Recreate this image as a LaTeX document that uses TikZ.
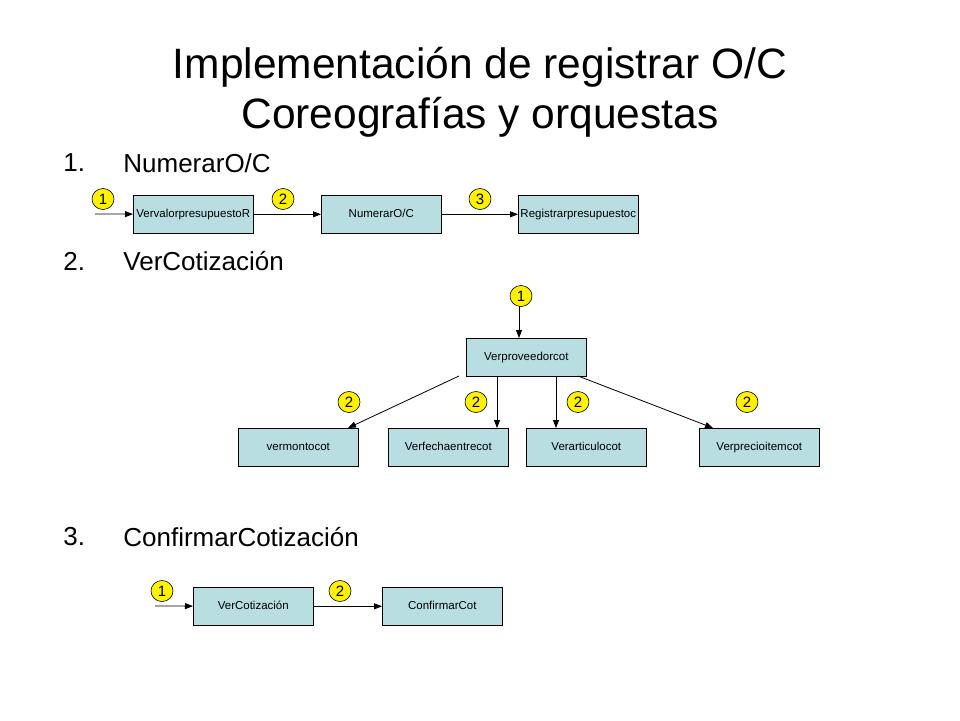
\documentclass[tikz,border=0pt]{standalone}
\usepackage{fontspec}
\setmainfont{Liberation Sans}
\usetikzlibrary{arrows.meta,shapes.geometric}
\begin{document}
\begin{tikzpicture}[x=1pt,y=-1pt,line width=0.8pt,
 box/.style={draw,line width=0.6pt,fill={rgb,255:red,184;green,222;blue,226},minimum width=120pt,minimum height=38pt,inner sep=0pt,text height=8pt,text depth=2pt,font=\fontsize{11.5}{13}\selectfont,anchor=north west},
 num/.style={ellipse,draw,line width=0.6pt,fill=yellow,minimum width=22pt,minimum height=21pt,inner sep=0pt,font=\fontsize{15}{17}\selectfont},
 arr/.style={-{Triangle[length=8pt,width=6pt]}},
 item/.style={anchor=west,font=\fontsize{26}{30}\selectfont,inner sep=0pt}]
\useasboundingbox (0,0) rectangle (960,720);
\node[font=\fontsize{42.5}{50}\selectfont,align=center] (t) at (480,92) {Implementación de registrar O/C\\Coreografías y orquestas};
\node[item] (l1) at (63,163) {1.};\node[item] (i1) at (123,163) {NumerarO/C};
\node[item] (l2) at (63,261) {2.};\node[item] (i2) at (123,261) {VerCotización};
\node[item] (l3) at (63,537) {3.};\node[item] (i3) at (123,537) {ConfirmarCotización};
% row1
\node[box] (a1) at (133,195) {VervalorpresupuestoR};
\node[box] (a2) at (321,195) {NumerarO/C};
\node[box] (a3) at (518,195) {Registrarpresupuestoc};
\coordinate (s1) at (95,214);
\draw[arr] (s1) -- (a1);\draw[arr] (a1) -- (a2);\draw[arr] (a2) -- (a3);
\node[num] (n11) at (103,199) {1};\node[num] (n12) at (283,199) {2};\node[num] (n13) at (480,199) {3};
% row2
\node[box] (b0) at (466,338) {Verproveedorcot};
\node[box] (b1) at (238,428) {vermontocot};
\node[box] (b2) at (388,428) {Verfechaentrecot};
\node[box] (b3) at (526,428) {Verarticulocot};
\node[box] (b4) at (699,428) {Verprecioitemcot};
\coordinate (s2) at (519,306);
\draw[arr] (s2) -- (519,338);
\draw[arr] (459,376) -- (348,428);
\draw[arr] (497,376) -- (497,428);
\draw[arr] (556,376) -- (556,428);
\draw[arr] (578,376) -- (713,428);
\node[num] (n21) at (521,296) {1};
\node[num] at (349,402) {2};\node[num] at (476,402) {2};\node[num] at (578,402) {2};\node[num] at (747,402) {2};
% row3
\node[box] (c1) at (193,587) {VerCotización};
\node[box] (c2) at (382,587) {ConfirmarCot};
\coordinate (s3) at (155,606);
\draw[arr] (s3) -- (c1);\draw[arr] (c1) -- (c2);
\node[num] at (162,591) {1};\node[num] at (340,591) {2};
\end{tikzpicture}
\end{document}
